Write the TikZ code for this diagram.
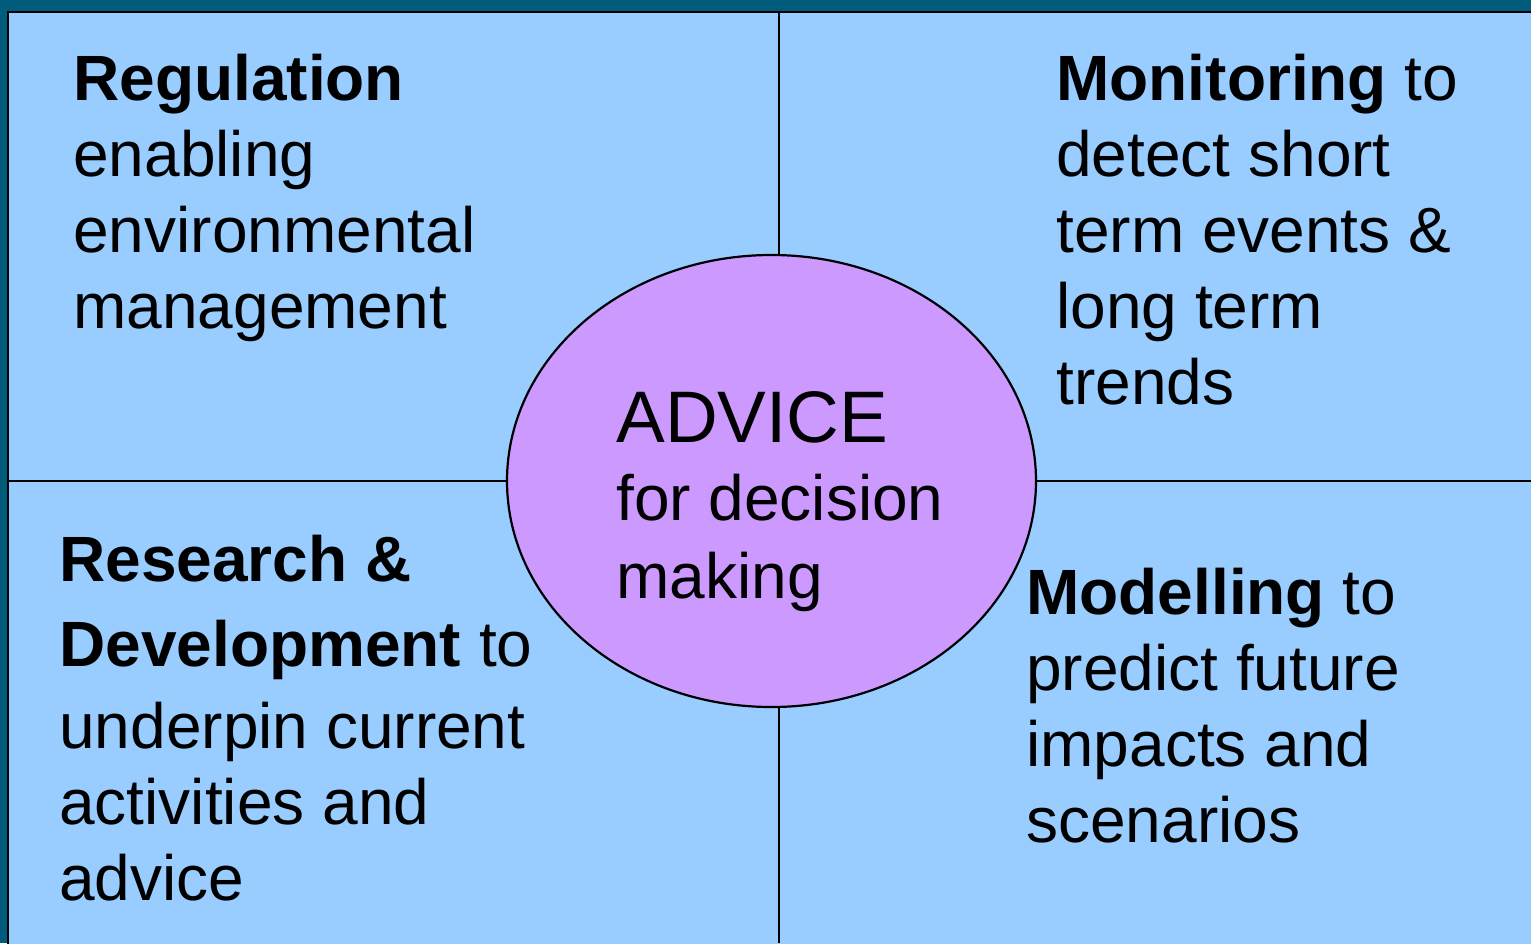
\documentclass[tikz,border=0pt]{standalone}
\usepackage{fontspec}
\setmainfont{Liberation Sans}
\usetikzlibrary{shapes.geometric}
\usetikzlibrary{calc,positioning}

\definecolor{frameteal}{RGB}{0,92,122}
\definecolor{panelblue}{RGB}{153,204,255}
\definecolor{advicelilac}{RGB}{204,153,255}

\begin{document}
\begin{tikzpicture}[x=0.5pt, y=-0.5pt,
quarter/.style={anchor=base west, align=left, inner sep=0pt,
  font=\fontsize{32}{38}\selectfont},
divider/.style={draw=black, line width=1.2pt}]

    \useasboundingbox (0,0) rectangle (1531,943);
    \clip (0,0) rectangle (1531,943);
    \fill[frameteal] (0,0) rectangle (1531,943);
    \draw[fill=panelblue, line width=1.3pt] (8,12) rectangle (1560,980);

    \node[ellipse, draw, fill=advicelilac, line width=1.1pt, inner sep=0pt,
      minimum width=264.5pt, minimum height=226pt] (advice) at (771.5,481) {};

    \coordinate (top) at (779,12);
    \coordinate (bottom) at (779,943);
    \coordinate (left) at (8,481);
    \coordinate (right) at (1531,481);

    \draw[divider] (top) -- (top |- advice.north);
    \draw[divider] (bottom |- advice.south) -- (bottom);
    \draw[divider] (left) -- (advice.west);
    \draw[divider] (advice.east) -- (right);

    % base anchor sits on the last line
    \node[quarter] (regulation) at (73,328) {\textbf{Regulation}\\ enabling\\ environmental\\ management};
    \node[quarter] (monitoring) at (1056,404) {\textbf{Monitoring} to\\ detect short\\ term events \&\\ long term\\ trends};
    \node[quarter] (research) at (59,900) {\textbf{Research \&}\\[4.5pt] \textbf{Development} to\\[3pt] underpin current\\ activities and\\ advice};
    \node[quarter] (modelling) at (1026,842) {\textbf{Modelling} to\\ predict future\\ impacts and\\ scenarios};

    \node[quarter, font=\fontsize{32}{39}\selectfont] (advicetext) at (616,598)
      {{\fontsize{36.5}{39}\selectfont ADVICE}\\ for decision\\ making};

\end{tikzpicture}
\end{document}
